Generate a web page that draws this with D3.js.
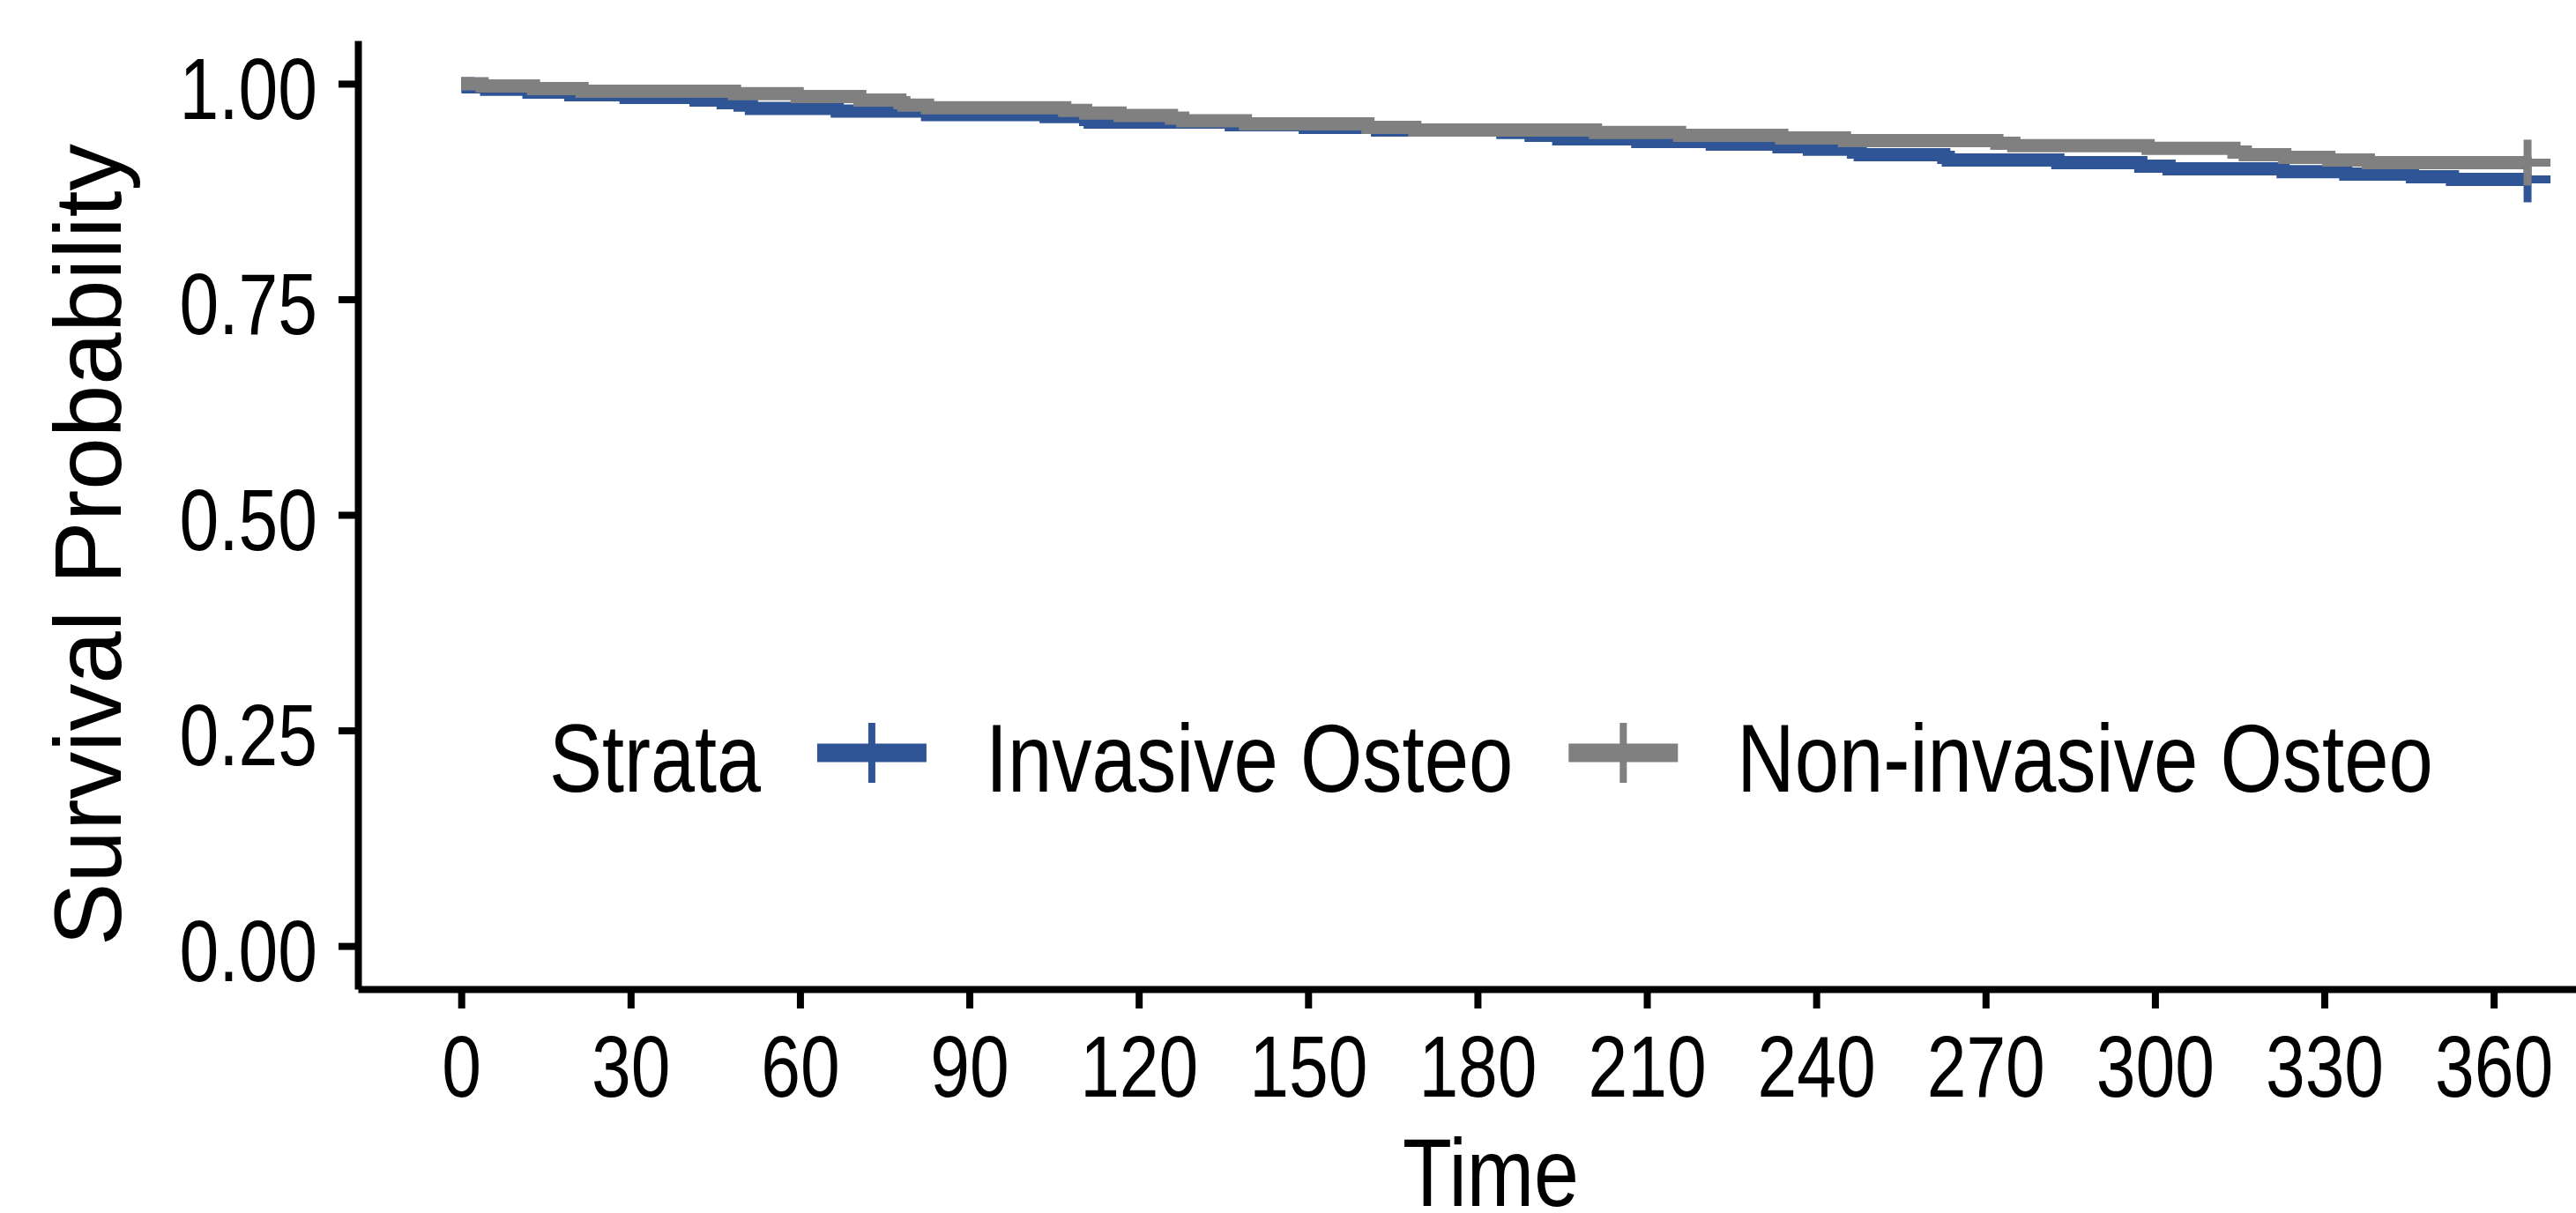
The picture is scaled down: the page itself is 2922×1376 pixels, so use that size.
<!DOCTYPE html>
<html>
<head>
<meta charset="utf-8">
<script src="https://cdn.jsdelivr.net/npm/d3@7"></script>
<style>
  html, body { margin: 0; padding: 0; background: #fff; }
  svg { display: block; font-family: "Liberation Sans", Arial, sans-serif; }
</style>
</head>
<body>
<svg id="chart" width="2922" height="1376"></svg>
<script>
// Datos: tiempos (días) y probabilidad de supervivencia
const invasiveTime = [0, 1.2, 4.5, 12, 19.4, 29.2, 41.6, 46.4, 49.4, 51.4, 66.6, 82.6, 103.6, 110.6, 111.4,
  136.4, 149.5, 162.3, 184.5, 189.5, 194.4, 208.4, 221.6, 233.4, 238.8, 246.6, 247.8, 262.6, 263.4,
  282.8, 297.5, 302.5, 322.7, 333.8, 345.6, 352.7, 366]
const invasiveSurv = [1, 0.9964, 0.9934, 0.9903, 0.9872, 0.984, 0.981, 0.978, 0.975, 0.9714, 0.9683, 0.964,
  0.9617, 0.9586, 0.9555, 0.9524, 0.9494, 0.9463, 0.9433, 0.9402, 0.936, 0.933, 0.930, 0.9269, 0.9239,
  0.9208, 0.9177, 0.9146, 0.9115, 0.9085, 0.9044, 0.9013, 0.898, 0.8952, 0.8921, 0.889, 0.889]

const nonInvasiveTime = [0, 3.7, 12.8, 21.4, 48.4, 59.5, 70.6, 77.7, 78.4, 82.6, 106.9, 110.6, 116.7, 125.8,
  127.8, 138.9, 160.6, 168.9, 200.9, 215.8, 233.9, 245, 272, 275, 298.8, 314, 316, 323, 330.8, 337.8, 366]
const nonInvasiveSurv = [1, 0.9974, 0.9944, 0.9913, 0.9883, 0.9852, 0.981, 0.978, 0.975, 0.972, 0.969, 0.966,
  0.963, 0.960, 0.957, 0.9535, 0.9494, 0.9463, 0.9433, 0.9402, 0.9371, 0.934, 0.931, 0.928, 0.9249, 0.9208,
  0.9177, 0.9146, 0.9115, 0.9085, 0.9085]

const strataNames = ["Invasive Osteo", "Non-invasive Osteo"]
const strataColors = ["#2F5597", "#808080"]
const censorTime = [366, 366]

const xTicks = [0, 30, 60, 90, 120, 150, 180, 210, 240, 270, 300, 330, 360]
const yTicks = [0, 0.25, 0.5, 0.75, 1]

const series = [
  { name: strataNames[0], color: strataColors[0], values: invasiveTime.map((t, i) => ({ t: t, s: invasiveSurv[i] })) },
  { name: strataNames[1], color: strataColors[1], values: nonInvasiveTime.map((t, i) => ({ t: t, s: nonInvasiveSurv[i] })) }
]

const svg = d3.select("#chart")
const FONT_TICK = 98, FONT_TXT = 109, NARROW = 0.82

// el texto horizontal del original es más estrecho que Arial
function narrow(sel, k) {
  sel.each(function () {
    const w = this.getComputedTextLength()
    d3.select(this).attr("textLength", w * k).attr("lengthAdjust", "spacingAndGlyphs")
  })
}

// escalas (expansión 5% como ggplot)
const tMax = 366
const x = d3.scaleLinear()
  .domain([-0.05 * tMax, tMax * 1.05])
  .range([406, 406 + 1.1 * tMax * 6.404])
const y = d3.scaleLinear()
  .domain([-0.05, 1.05])
  .range([1122, 46])

// ejes
const xAxis = svg.append("g")
  .attr("transform", `translate(0,${y(-0.05)})`)
  .call(d3.axisBottom(x).tickValues(xTicks).tickSize(22).tickSizeOuter(0).tickPadding(30))
const yAxis = svg.append("g")
  .attr("transform", `translate(${x(-0.05 * tMax)},0)`)
  .call(d3.axisLeft(y).tickValues(yTicks).tickFormat(d3.format(".2f")).tickSize(22).tickSizeOuter(0).tickPadding(24))

;[xAxis, yAxis].forEach(a => {
  a.select(".domain").attr("stroke", "#000").attr("stroke-width", 8)
  a.selectAll(".tick line").attr("stroke", "#000").attr("stroke-width", 8)
  a.selectAll(".tick text")
    .attr("fill", "#000")
    .style("font-family", '"Liberation Sans", Arial, sans-serif')
    .style("font-size", FONT_TICK + "px")
})
yAxis.selectAll(".tick text").attr("dy", "0.4em")
narrow(xAxis.selectAll(".tick text"), NARROW)
narrow(yAxis.selectAll(".tick text"), NARROW)

// curvas de supervivencia (escalonadas)
const line = d3.line()
  .x(d => x(d.t))
  .y(d => y(d.s))
  .curve(d3.curveStepAfter)

svg.append("g")
  .selectAll("path")
  .data(series)
  .join("path")
  .attr("d", d => line(d.values))
  .attr("fill", "none")
  .attr("stroke", d => d.color)
  .attr("stroke-width", 15)

// marcas de censura "+"
const cross = 26
series.forEach((s, i) => {
  const last = s.values[s.values.length - 1]
  const cx = x(censorTime[i]), cy = y(last.s)
  const g = svg.append("g").attr("stroke", s.color).attr("stroke-width", 9)
  g.append("line").attr("x1", cx).attr("x2", cx).attr("y1", cy - cross).attr("y2", cy + cross)
  g.append("line").attr("x1", cx - cross).attr("x2", cx + cross).attr("y1", cy).attr("y2", cy)
})

// títulos de ejes
svg.append("text")
  .attr("transform", "rotate(-90)")
  .attr("x", -618)
  .attr("y", 137)
  .attr("text-anchor", "middle")
  .style("font-size", "107px")
  .text("Survival Probability")

const tTitle = svg.append("text")
  .attr("x", 1691)
  .attr("y", 1368)
  .attr("text-anchor", "middle")
  .style("font-size", FONT_TXT + "px")
  .text("Time")
narrow(tTitle, 0.84)

// leyenda (getComputedTextLength ya devuelve el ancho estrechado)
const legend = svg.append("g").attr("transform", "translate(623,898)")
const lgTitle = legend.append("text").attr("x", 0).attr("y", 0)
  .style("font-size", FONT_TXT + "px").text("Strata")
narrow(lgTitle, 0.825)
let cursor = lgTitle.node().getComputedTextLength() + 64
const keyW = 124, keyY = -44
series.forEach((s, i) => {
  legend.append("line")
    .attr("x1", cursor).attr("x2", cursor + keyW)
    .attr("y1", keyY).attr("y2", keyY)
    .attr("stroke", s.color).attr("stroke-width", 21)
  legend.append("line")
    .attr("x1", cursor + keyW / 2).attr("x2", cursor + keyW / 2)
    .attr("y1", keyY - 34).attr("y2", keyY + 34)
    .attr("stroke", s.color).attr("stroke-width", 8)
  cursor += keyW + 67
  const t = legend.append("text").attr("x", cursor).attr("y", 0)
    .style("font-size", FONT_TXT + "px").text(s.name)
  narrow(t, 0.83)
  cursor += t.node().getComputedTextLength() + 63
})
</script>
</body>
</html>
